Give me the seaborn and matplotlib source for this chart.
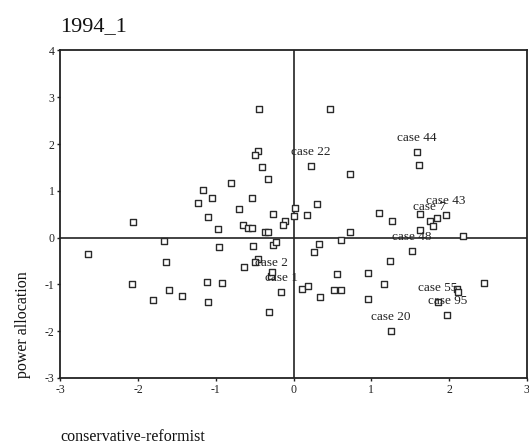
import matplotlib
matplotlib.use("Agg")
import matplotlib.pyplot as plt
import seaborn as sns
import pandas as pd

# conservative-reformist (x) and power allocation (y) scores
x_vals = [-0.44, 0.47, -0.46, -0.50, -0.41, -0.33, -0.81, -1.16, -1.05, -1.23,
          -0.53, -0.70, -1.10, -2.06, -0.97, -0.65, -0.58, -0.54, -0.37, -0.33,
          -0.26, -0.11, -0.13, 0.02, 0.01, 0.17, 0.30, 0.22, 0.73, 1.59,
          1.61, 1.10, 1.27, 1.63, 1.75, 1.84, 1.96, 1.80, 1.63, 2.18,
          0.73, 0.61, 0.33, 0.26, 1.52, 1.24, 0.56, 0.96, 1.16, 0.11,
          0.19, 0.52, 0.61, 0.34, 0.96, 2.45, 2.10, 2.12, 1.86, 1.98,
          1.25, -0.31, -0.16, -0.29, -0.28, -0.64, -0.46, -0.50, -0.52, -0.26,
          -0.22, -0.96, -1.11, -0.92, -1.10, -1.44, -1.60, -1.81, -2.08, -1.64,
          -1.66, -2.64]
y_vals = [2.76, 2.76, 1.86, 1.77, 1.50, 1.25, 1.16, 1.01, 0.84, 0.75,
          0.84, 0.61, 0.45, 0.34, 0.18, 0.26, 0.21, 0.21, 0.11, 0.11,
          0.50, 0.35, 0.26, 0.63, 0.46, 0.48, 0.71, 1.53, 1.36, 1.84,
          1.56, 0.53, 0.35, 0.51, 0.36, 0.43, 0.49, 0.24, 0.16, 0.03,
          0.11, -0.05, -0.13, -0.31, -0.28, -0.49, -0.78, -0.75, -0.99, -1.09,
          -1.03, -1.12, -1.12, -1.27, -1.32, -0.98, -1.09, -1.16, -1.37, -1.66,
          -1.99, -1.58, -1.16, -0.83, -0.73, -0.63, -0.46, -0.53, -0.17, -0.16,
          -0.09, -0.21, -0.94, -0.96, -1.38, -1.25, -1.13, -1.34, -1.00, -0.53,
          -0.07, -0.34]

# labelled cases: label, x, y
case_labels = ["case 22", "case 44", "case 43", "case 7", "case 48",
               "case 2", "case 1", "case 55", "case 95", "case 20"]
case_x = [0.22, 1.59, 1.96, 1.75, 1.52, -0.29, -0.16, 1.86, 1.98, 1.25]
case_y = [1.53, 1.84, 0.49, 0.36, -0.28, -0.83, -1.16, -1.37, -1.66, -1.99]

x_ticks = [-3, -2, -1, 0, 1, 2, 3]
y_ticks = [-3, -2, -1, 0, 1, 2, 3, 4]

sns.set_theme(style="white")
plt.rcParams['font.family'] = ['Liberation Serif', 'DejaVu Serif']
plt.rcParams['axes.unicode_minus'] = False

df = pd.DataFrame({"x": x_vals, "y": y_vals})

fig = plt.figure(figsize=(5.29, 4.46), dpi=100)
ax = fig.add_axes([0.114, 0.1525, 0.8817, 0.7343])

ax.axhline(0, color="#222222", lw=1.2, zorder=1)
ax.axvline(0, color="#222222", lw=1.2, zorder=1)

sns.scatterplot(data=df, x="x", y="y", ax=ax, marker="s", s=13,
                facecolor="white", edgecolor="#2a2a2a", linewidth=1.0, zorder=2)

for lab, cx, cy in zip(case_labels, case_x, case_y):
    ax.annotate(lab, (cx, cy), xytext=(0, 10), textcoords="offset points",
                ha="center", va="center", fontsize=9.5, color="#222222", zorder=3)

ax.set_xlim(-3, 3)
ax.set_ylim(-3, 4)
ax.set_xticks(x_ticks)
ax.set_yticks(y_ticks)
ax.tick_params(axis="both", direction="out", length=2.5, width=1, colors="#222222",
               labelsize=8.5, pad=1.5, bottom=True, left=True)
for sp in ax.spines.values():
    sp.set_color("#222222")
    sp.set_linewidth(1.3)

ax.set_xlabel("conservative-reformist", loc="left", fontsize=11.5, labelpad=24, color="#111111")
ax.set_ylabel("power allocation", loc="bottom", fontsize=11.5, labelpad=10, color="#111111")
ax.set_title("1994_1", loc="left", fontsize=16, pad=14, color="#111111")

fig.savefig("out.png", dpi=100, facecolor="white")
